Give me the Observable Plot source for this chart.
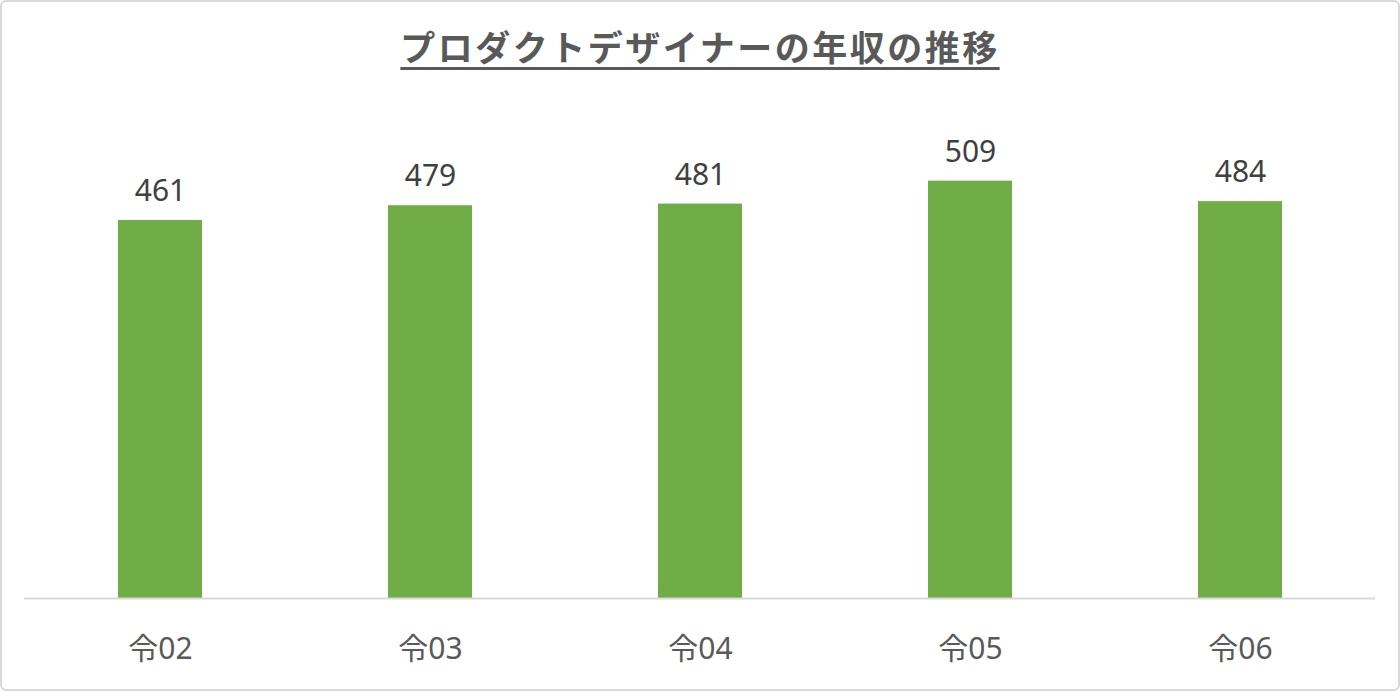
<!DOCTYPE html>
<html><head><meta charset="utf-8">
<script src="https://cdn.jsdelivr.net/npm/d3@7"></script>
<script src="https://cdn.jsdelivr.net/npm/@observablehq/plot@0.6"></script>
<style>
body{margin:0;background:#fff;}
#wrap{position:relative;width:1400px;height:691px;overflow:hidden;}
#frame{position:absolute;left:0;top:0;width:1396px;height:687px;border:2px solid #d9d9d9;border-radius:6px;pointer-events:none;}
#title{position:absolute;left:0;top:25px;width:1400px;text-align:center;font-family:"Noto Sans CJK JP",sans-serif;font-weight:bold;font-size:35px;color:#595959;text-decoration:underline;text-decoration-thickness:3px;text-underline-offset:6px;line-height:1.2;letter-spacing:2.5px}
#chart{position:absolute;left:0;top:0}
</style></head><body>
<div id="wrap"><div id="chart"></div><div id="title">プロダクトデザイナーの年収の推移</div><div id="frame"></div></div>
<script>
const categories = ["令02","令03","令04","令05","令06"];
const values = [461,479,481,509,484];
const data = categories.map((c,i)=>({year:c, value:values[i]}));
const chart = Plot.plot({
  width:1400, height:691, marginTop:106, marginBottom:93, marginLeft:24, marginRight:25,
  style:{background:"transparent", fontFamily:'"Noto Sans","Noto Sans CJK JP",sans-serif'},
  x:{domain:categories, paddingInner:0.69, paddingOuter:0.345, label:null},
  y:{domain:[0,600], axis:null},
  marks:[
    Plot.barY(data,{x:"year",y:"value",fill:"#70ad47"}),
    Plot.ruleY([0],{stroke:"#d9d9d9",strokeWidth:2}),
    Plot.text(data,{x:"year",y:"value",text:d=>String(d.value),dy:-29,fill:"#404040",fontSize:30,lineAnchor:"middle"}),
    Plot.axisX({tickSize:0, tickPadding:39, fontSize:30, fill:"#595959", label:null})
  ]
});
document.getElementById("chart").appendChild(chart);
</script>
</body></html>
